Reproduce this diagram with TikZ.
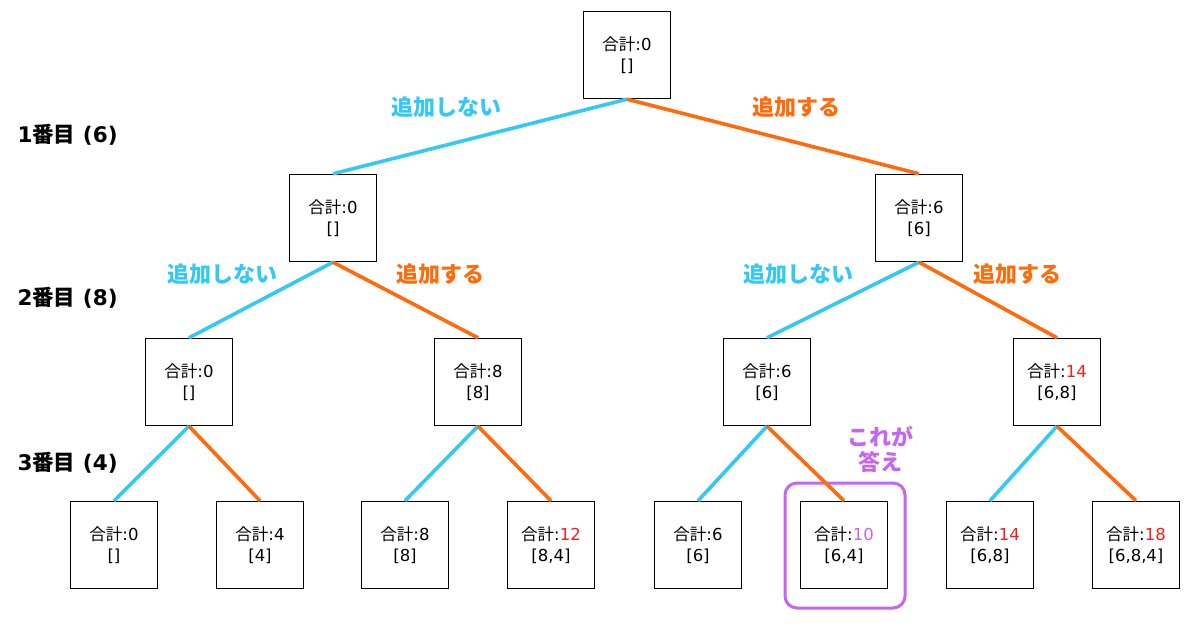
\documentclass[tikz,border=0pt]{standalone}
\usepackage{fontspec}
\setmainfont{DejaVu Sans}
\newfontfamily\jp{Noto Sans CJK JP}
\definecolor{cblue}{HTML}{33C8F5}
\definecolor{corange}{HTML}{FF6A0A}
\definecolor{cpurple}{HTML}{C466F2}
\definecolor{cred}{HTML}{FF1A1A}
\newcommand{\gk}{{\jp 合計}:}
\begin{document}
\begin{tikzpicture}[x=1pt,y=-1pt,
  box/.style={draw=black,line width=1.4pt,minimum width=87pt,minimum height=87pt,inner sep=0pt,align=center,font=\fontsize{16.5}{21}\selectfont,fill=white},
  no/.style={draw=cblue,line width=3.6pt},
  yes/.style={draw=corange,line width=3.6pt},
  lno/.style={text=cblue,font=\fontsize{22}{26}\selectfont\jp\bfseries},
  lyes/.style={text=corange,font=\fontsize{22}{26}\selectfont\jp\bfseries},
  lvl/.style={text=black,font=\fontsize{21.5}{26}\selectfont\bfseries,anchor=west}]
\useasboundingbox (0,0) rectangle (1200,634);
% purple highlight
\node[draw=cpurple,line width=3pt,rounded corners=12pt,minimum width=120pt,minimum height=125pt] (hl) at (845,545.5) {};
% nodes
\node[box] (r) at (627,55) {\gk 0\\{[}{]}};
\node[box] (a) at (333,218) {\gk 0\\{[}{]}};
\node[box] (b) at (919,218) {\gk 6\\{[}6{]}};
\node[box] (aa) at (189,382) {\gk 0\\{[}{]}};
\node[box] (ab) at (478,382) {\gk 8\\{[}8{]}};
\node[box] (ba) at (767,382) {\gk 6\\{[}6{]}};
\node[box] (bb) at (1057,382) {\gk\textcolor{cred}{14}\\{[}6,8{]}};
\node[box] (aaa) at (114,545) {\gk 0\\{[}{]}};
\node[box] (aab) at (260,545) {\gk 4\\{[}4{]}};
\node[box] (aba) at (405,545) {\gk 8\\{[}8{]}};
\node[box] (abb) at (551,545) {\gk\textcolor{cred}{12}\\{[}8,4{]}};
\node[box] (baa) at (698,545) {\gk 6\\{[}6{]}};
\node[box] (bab) at (844,545) {\gk\textcolor{cpurple}{10}\\{[}6,4{]}};
\node[box] (bba) at (990,545) {\gk\textcolor{cred}{14}\\{[}6,8{]}};
\node[box] (bbb) at (1136,545) {\gk\textcolor{cred}{18}\\{[}6,8,4{]}};
% edges
\draw[no] (r.south) -- (a.north);
\draw[yes] (r.south) -- (b.north);
\draw[no] (a.south) -- (aa.north);
\draw[yes] (a.south) -- (ab.north);
\draw[no] (b.south) -- (ba.north);
\draw[yes] (b.south) -- (bb.north);
\draw[no] (aa.south) -- (aaa.north);
\draw[yes] (aa.south) -- (aab.north);
\draw[no] (ab.south) -- (aba.north);
\draw[yes] (ab.south) -- (abb.north);
\draw[no] (ba.south) -- (baa.north);
\draw[yes] (ba.south) -- (bab.north);
\draw[no] (bb.south) -- (bba.north);
\draw[yes] (bb.south) -- (bbb.north);
% edge labels
\node[lno] (l1) at (446,107) {追加しない};
\node[lyes] (l2) at (796,107) {追加する};
\node[lno] (l3) at (222,274) {追加しない};
\node[lyes] (l4) at (440,274) {追加する};
\node[lno] (l5) at (798,274) {追加しない};
\node[lyes] (l6) at (1017,274) {追加する};
% level labels
\node[lvl] (v1) at (14,135) {1{\jp 番目} (6)};
\node[lvl] (v2) at (14,298) {2{\jp 番目} (8)};
\node[lvl] (v3) at (14,463) {3{\jp 番目} (4)};
% answer label
\node[text=cpurple,font=\fontsize{22}{25}\selectfont\jp\bfseries,align=center] (ans) at (880,449) {これが\\答え};
\end{tikzpicture}
\end{document}
